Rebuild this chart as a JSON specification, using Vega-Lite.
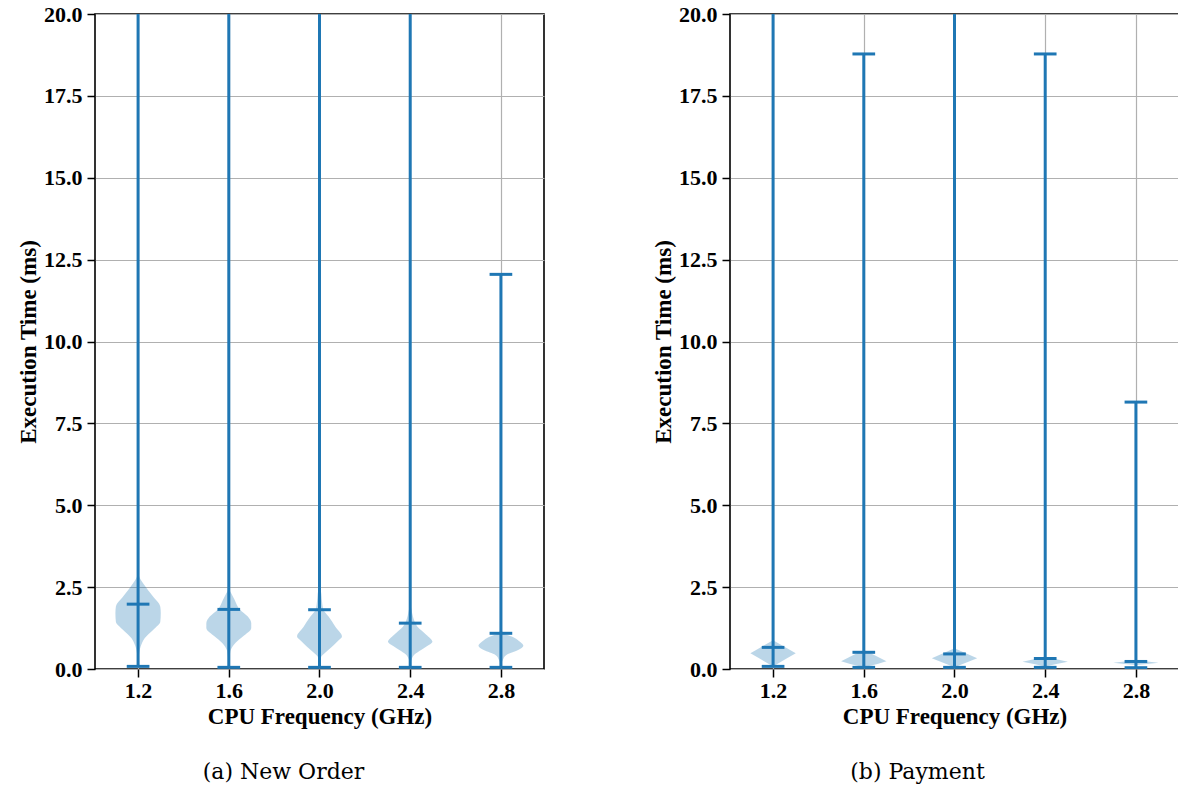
{
  "$schema": "https://vega.github.io/schema/vega-lite/v6.json",
  "background": "white",
  "padding": {"left": 16, "top": 2, "right": 0, "bottom": 0},
  "datasets": {
    "violins": [
      {"panel": "New Order", "freq": 1.2, "t": 3.0, "dens": 0},
      {"panel": "New Order", "freq": 1.2, "t": 2.8, "dens": 0.06},
      {"panel": "New Order", "freq": 1.2, "t": 2.62, "dens": 0.22},
      {"panel": "New Order", "freq": 1.2, "t": 2.21, "dens": 0.66},
      {"panel": "New Order", "freq": 1.2, "t": 1.9, "dens": 0.98},
      {"panel": "New Order", "freq": 1.2, "t": 1.7, "dens": 1.0},
      {"panel": "New Order", "freq": 1.2, "t": 1.44, "dens": 0.98},
      {"panel": "New Order", "freq": 1.2, "t": 1.19, "dens": 0.66},
      {"panel": "New Order", "freq": 1.2, "t": 0.94, "dens": 0.29},
      {"panel": "New Order", "freq": 1.2, "t": 0.7, "dens": 0.12},
      {"panel": "New Order", "freq": 1.2, "t": 0.5, "dens": 0.05},
      {"panel": "New Order", "freq": 1.2, "t": 0.3, "dens": 0.02},
      {"panel": "New Order", "freq": 1.2, "t": 0.1, "dens": 0},

      {"panel": "New Order", "freq": 1.6, "t": 2.45, "dens": 0},
      {"panel": "New Order", "freq": 1.6, "t": 2.11, "dens": 0.26},
      {"panel": "New Order", "freq": 1.6, "t": 1.82, "dens": 0.48},
      {"panel": "New Order", "freq": 1.6, "t": 1.6, "dens": 0.84},
      {"panel": "New Order", "freq": 1.6, "t": 1.4, "dens": 0.99},
      {"panel": "New Order", "freq": 1.6, "t": 1.25, "dens": 0.99},
      {"panel": "New Order", "freq": 1.6, "t": 0.99, "dens": 0.62},
      {"panel": "New Order", "freq": 1.6, "t": 0.8, "dens": 0.3},
      {"panel": "New Order", "freq": 1.6, "t": 0.68, "dens": 0.16},
      {"panel": "New Order", "freq": 1.6, "t": 0.55, "dens": 0.07},
      {"panel": "New Order", "freq": 1.6, "t": 0.3, "dens": 0.03},
      {"panel": "New Order", "freq": 1.6, "t": 0.08, "dens": 0},

      {"panel": "New Order", "freq": 2.0, "t": 2.6, "dens": 0},
      {"panel": "New Order", "freq": 2.0, "t": 2.3, "dens": 0.08},
      {"panel": "New Order", "freq": 2.0, "t": 2.0, "dens": 0.12},
      {"panel": "New Order", "freq": 2.0, "t": 1.8, "dens": 0.18},
      {"panel": "New Order", "freq": 2.0, "t": 1.6, "dens": 0.4},
      {"panel": "New Order", "freq": 2.0, "t": 1.29, "dens": 0.7},
      {"panel": "New Order", "freq": 2.0, "t": 0.99, "dens": 0.99},
      {"panel": "New Order", "freq": 2.0, "t": 0.85, "dens": 0.8},
      {"panel": "New Order", "freq": 2.0, "t": 0.68, "dens": 0.55},
      {"panel": "New Order", "freq": 2.0, "t": 0.5, "dens": 0.25},
      {"panel": "New Order", "freq": 2.0, "t": 0.38, "dens": 0.08},
      {"panel": "New Order", "freq": 2.0, "t": 0.08, "dens": 0},

      {"panel": "New Order", "freq": 2.4, "t": 2.0, "dens": 0},
      {"panel": "New Order", "freq": 2.4, "t": 1.8, "dens": 0.06},
      {"panel": "New Order", "freq": 2.4, "t": 1.6, "dens": 0.12},
      {"panel": "New Order", "freq": 2.4, "t": 1.29, "dens": 0.32},
      {"panel": "New Order", "freq": 2.4, "t": 1.04, "dens": 0.72},
      {"panel": "New Order", "freq": 2.4, "t": 0.83, "dens": 0.98},
      {"panel": "New Order", "freq": 2.4, "t": 0.7, "dens": 0.75},
      {"panel": "New Order", "freq": 2.4, "t": 0.58, "dens": 0.48},
      {"panel": "New Order", "freq": 2.4, "t": 0.45, "dens": 0.2},
      {"panel": "New Order", "freq": 2.4, "t": 0.33, "dens": 0.08},
      {"panel": "New Order", "freq": 2.4, "t": 0.08, "dens": 0},

      {"panel": "New Order", "freq": 2.8, "t": 1.3, "dens": 0},
      {"panel": "New Order", "freq": 2.8, "t": 1.1, "dens": 0.1},
      {"panel": "New Order", "freq": 2.8, "t": 0.99, "dens": 0.48},
      {"panel": "New Order", "freq": 2.8, "t": 0.83, "dens": 0.84},
      {"panel": "New Order", "freq": 2.8, "t": 0.71, "dens": 0.99},
      {"panel": "New Order", "freq": 2.8, "t": 0.58, "dens": 0.76},
      {"panel": "New Order", "freq": 2.8, "t": 0.43, "dens": 0.24},
      {"panel": "New Order", "freq": 2.8, "t": 0.27, "dens": 0.08},
      {"panel": "New Order", "freq": 2.8, "t": 0.08, "dens": 0},

      {"panel": "Payment", "freq": 1.2, "t": 0.88, "dens": 0},
      {"panel": "Payment", "freq": 1.2, "t": 0.68, "dens": 0.5},
      {"panel": "Payment", "freq": 1.2, "t": 0.48, "dens": 1.0},
      {"panel": "Payment", "freq": 1.2, "t": 0.28, "dens": 0.5},
      {"panel": "Payment", "freq": 1.2, "t": 0.08, "dens": 0},

      {"panel": "Payment", "freq": 1.6, "t": 0.58, "dens": 0},
      {"panel": "Payment", "freq": 1.6, "t": 0.41, "dens": 0.5},
      {"panel": "Payment", "freq": 1.6, "t": 0.24, "dens": 1.0},
      {"panel": "Payment", "freq": 1.6, "t": 0.15, "dens": 0.6},
      {"panel": "Payment", "freq": 1.6, "t": 0.05, "dens": 0},

      {"panel": "Payment", "freq": 2.0, "t": 0.63, "dens": 0},
      {"panel": "Payment", "freq": 2.0, "t": 0.48, "dens": 0.5},
      {"panel": "Payment", "freq": 2.0, "t": 0.33, "dens": 1.0},
      {"panel": "Payment", "freq": 2.0, "t": 0.19, "dens": 0.5},
      {"panel": "Payment", "freq": 2.0, "t": 0.05, "dens": 0},

      {"panel": "Payment", "freq": 2.4, "t": 0.38, "dens": 0},
      {"panel": "Payment", "freq": 2.4, "t": 0.3, "dens": 0.5},
      {"panel": "Payment", "freq": 2.4, "t": 0.22, "dens": 1.0},
      {"panel": "Payment", "freq": 2.4, "t": 0.15, "dens": 0.5},
      {"panel": "Payment", "freq": 2.4, "t": 0.08, "dens": 0},

      {"panel": "Payment", "freq": 2.8, "t": 0.27, "dens": 0},
      {"panel": "Payment", "freq": 2.8, "t": 0.23, "dens": 0.5},
      {"panel": "Payment", "freq": 2.8, "t": 0.19, "dens": 1.0},
      {"panel": "Payment", "freq": 2.8, "t": 0.155, "dens": 0.5},
      {"panel": "Payment", "freq": 2.8, "t": 0.12, "dens": 0}
    ],
    "stats": [
      {"panel": "New Order", "freq": 1.2, "min": 0.08, "mean": 1.98, "max": 25},
      {"panel": "New Order", "freq": 1.6, "min": 0.05, "mean": 1.82, "max": 25},
      {"panel": "New Order", "freq": 2.0, "min": 0.05, "mean": 1.81, "max": 25},
      {"panel": "New Order", "freq": 2.4, "min": 0.05, "mean": 1.4, "max": 25},
      {"panel": "New Order", "freq": 2.8, "min": 0.05, "mean": 1.09, "max": 12.05},
      {"panel": "Payment", "freq": 1.2, "min": 0.08, "mean": 0.66, "max": 25},
      {"panel": "Payment", "freq": 1.6, "min": 0.05, "mean": 0.51, "max": 18.78},
      {"panel": "Payment", "freq": 2.0, "min": 0.05, "mean": 0.46, "max": 25},
      {"panel": "Payment", "freq": 2.4, "min": 0.05, "mean": 0.32, "max": 18.78},
      {"panel": "Payment", "freq": 2.8, "min": 0.04, "mean": 0.23, "max": 8.15}
    ]
  },
  "hconcat": [
    {
      "width": 449,
      "height": 655,
      "title": {"text": "(a) New Order", "dx": -36},
      "layer": [
        {
          "data": {"name": "violins"},
          "transform": [
            {"filter": "datum.panel === 'New Order'"},
            {"calculate": "datum.freq - 0.1 * datum.dens", "as": "xl"},
            {"calculate": "datum.freq + 0.1 * datum.dens", "as": "xr"}
          ],
          "mark": {"type": "area", "orient": "horizontal", "interpolate": "monotone", "color": "#1f77b4", "opacity": 0.3, "clip": true},
          "encoding": {
            "y": {"field": "t", "type": "quantitative", "sort": null, "title": "Execution Time (ms)",
                  "scale": {"domain": [0, 20], "nice": false, "zero": false},
                  "axis": {"values": [0, 2.5, 5, 7.5, 10, 12.5, 15, 17.5, 20], "format": ".1f", "titlePadding": 3}},
            "x": {"field": "xl", "type": "quantitative", "title": "CPU Frequency (GHz)",
                  "scale": {"domain": [1.01, 2.99], "nice": false, "zero": false},
                  "axis": {"values": [1.2, 1.6, 2.0, 2.4, 2.8], "format": ".1f", "labelPadding": 3, "titlePadding": 4}},
            "x2": {"field": "xr"},
            "detail": {"field": "freq", "type": "nominal"}
          }
        },
        {
          "data": {"name": "stats"},
          "transform": [{"filter": "datum.panel === 'New Order'"}],
          "mark": {"type": "rule", "color": "#1f77b4", "strokeWidth": 3, "clip": true},
          "encoding": {
            "x": {"field": "freq", "type": "quantitative", "title": "CPU Frequency (GHz)"},
            "y": {"field": "min", "type": "quantitative", "title": "Execution Time (ms)"},
            "y2": {"field": "max"}
          }
        },
        {
          "data": {"name": "stats"},
          "transform": [
            {"filter": "datum.panel === 'New Order'"},
            {"fold": ["min", "mean", "max"], "as": ["stat", "v"]},
            {"calculate": "datum.freq - 0.05", "as": "cl"},
            {"calculate": "datum.freq + 0.05", "as": "cr"}
          ],
          "mark": {"type": "rule", "color": "#1f77b4", "strokeWidth": 3, "clip": true},
          "encoding": {
            "x": {"field": "cl", "type": "quantitative", "title": "CPU Frequency (GHz)"},
            "x2": {"field": "cr"},
            "y": {"field": "v", "type": "quantitative", "title": "Execution Time (ms)"}
          }
        }
      ]
    },
    {
      "width": 449,
      "height": 655,
      "title": {"text": "(b) Payment", "dx": -37},
      "layer": [
        {
          "data": {"name": "violins"},
          "transform": [
            {"filter": "datum.panel === 'Payment'"},
            {"calculate": "datum.freq - 0.1 * datum.dens", "as": "xl"},
            {"calculate": "datum.freq + 0.1 * datum.dens", "as": "xr"}
          ],
          "mark": {"type": "area", "orient": "horizontal", "interpolate": "linear", "color": "#1f77b4", "opacity": 0.3, "clip": true},
          "encoding": {
            "y": {"field": "t", "type": "quantitative", "sort": null, "title": "Execution Time (ms)",
                  "scale": {"domain": [0, 20], "nice": false, "zero": false},
                  "axis": {"values": [0, 2.5, 5, 7.5, 10, 12.5, 15, 17.5, 20], "format": ".1f", "titlePadding": 3}},
            "x": {"field": "xl", "type": "quantitative", "title": "CPU Frequency (GHz)",
                  "scale": {"domain": [1.01, 2.99], "nice": false, "zero": false},
                  "axis": {"values": [1.2, 1.6, 2.0, 2.4, 2.8], "format": ".1f", "labelPadding": 3, "titlePadding": 4}},
            "x2": {"field": "xr"},
            "detail": {"field": "freq", "type": "nominal"}
          }
        },
        {
          "data": {"name": "stats"},
          "transform": [{"filter": "datum.panel === 'Payment'"}],
          "mark": {"type": "rule", "color": "#1f77b4", "strokeWidth": 3, "clip": true},
          "encoding": {
            "x": {"field": "freq", "type": "quantitative", "title": "CPU Frequency (GHz)"},
            "y": {"field": "min", "type": "quantitative", "title": "Execution Time (ms)"},
            "y2": {"field": "max"}
          }
        },
        {
          "data": {"name": "stats"},
          "transform": [
            {"filter": "datum.panel === 'Payment'"},
            {"fold": ["min", "mean", "max"], "as": ["stat", "v"]},
            {"calculate": "datum.freq - 0.05", "as": "cl"},
            {"calculate": "datum.freq + 0.05", "as": "cr"}
          ],
          "mark": {"type": "rule", "color": "#1f77b4", "strokeWidth": 3, "clip": true},
          "encoding": {
            "x": {"field": "cl", "type": "quantitative", "title": "CPU Frequency (GHz)"},
            "x2": {"field": "cr"},
            "y": {"field": "v", "type": "quantitative", "title": "Execution Time (ms)"}
          }
        }
      ]
    }
  ],
  "spacing": 186,
  "bounds": "flush",
  "config": {
    "view": {"stroke": "black", "strokeWidth": 1.6},
    "title": {"orient": "bottom", "font": "DejaVu Serif", "fontSize": 22, "fontWeight": "normal", "color": "black", "offset": 34, "anchor": "middle"},
    "axis": {
      "domain": false,
      "grid": true,
      "gridColor": "#b0b0b0",
      "gridWidth": 1.2,
      "ticks": true,
      "tickColor": "black",
      "tickSize": 8,
      "tickWidth": 1.5,
      "labelFont": "Liberation Serif",
      "labelFontWeight": "bold",
      "labelFontSize": 22,
      "labelColor": "black",
      "labelPadding": 5,
      "titleFont": "Liberation Serif",
      "titleFontWeight": "bold",
      "titleFontSize": 23,
      "titleColor": "black",
      "titlePadding": 6
    }
  },
  "resolve": {"scale": {"x": "independent", "y": "independent"}}
}
